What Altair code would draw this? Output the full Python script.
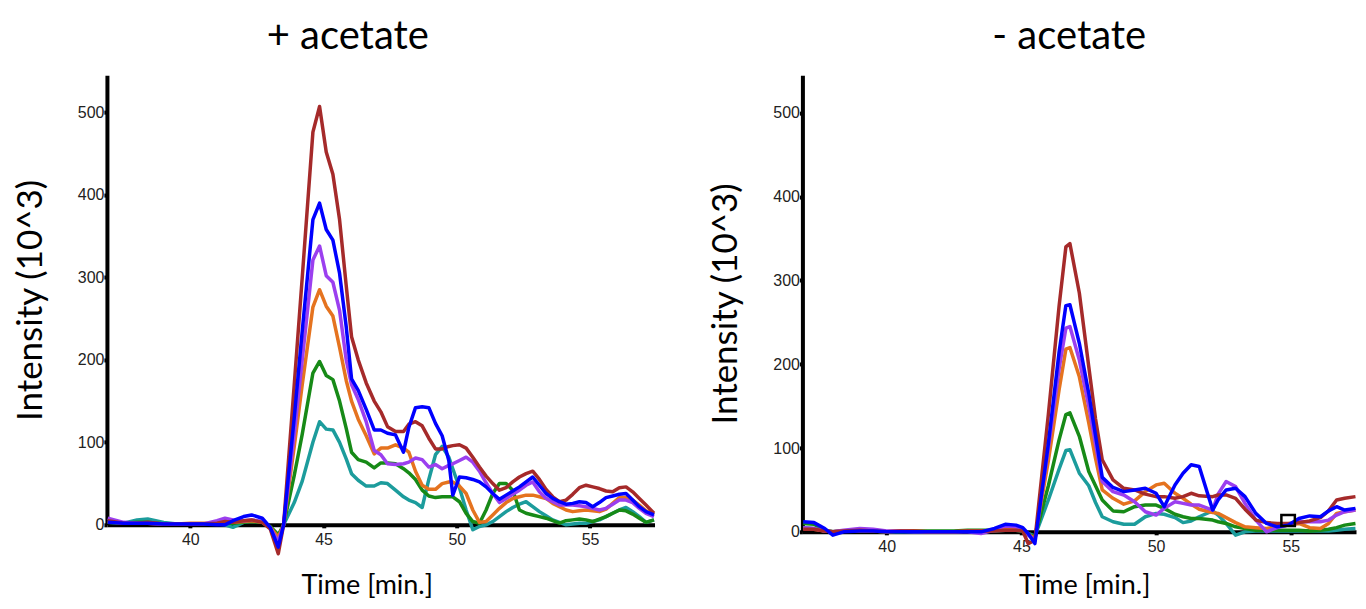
import altair as alt
import pandas as pd

# ---------------- data ----------------
series_names = ["teal", "green", "orange", "purple", "red", "blue"]
series_colors = ["#1C9C9C", "#178A17", "#E5731F", "#9B3FEF", "#A52A2A", "#0000FF"]

t_left = [36.9, 37.5, 38.0, 38.4, 39.0, 39.5, 40.0, 40.5, 41.0, 41.3,
          41.6, 42.0, 42.3, 42.7, 43.0, 43.3, 43.5, 43.9, 44.2, 44.6,
          44.85, 45.1, 45.35, 45.6, 45.85, 46.05, 46.3, 46.6, 46.9, 47.15,
          47.4, 47.7, 48.0, 48.2, 48.45, 48.7, 48.95, 49.2, 49.45, 49.7,
          49.85, 50.1, 50.35, 50.6, 50.85, 51.1, 51.35, 51.6, 51.85, 52.1,
          52.35, 52.6, 52.85, 53.1, 53.35, 53.6, 53.85, 54.1, 54.35, 54.6,
          54.85, 55.1, 55.35, 55.6, 55.85, 56.1, 56.35, 56.6, 56.85, 57.1,
          57.4]

left_red = [5, 2, 2, 3, 1, 1, 1, 1, 2, 4,
            3, 5, 6, 3, -5, -35, 0, 170, 300, 476,
            507, 452, 425, 370, 290, 228, 200, 172, 150, 137,
            119, 113, 113, 122, 125, 120, 105, 92, 92, 95,
            96, 97, 93, 82, 70, 59, 50, 42, 45, 52,
            58, 62, 65, 55, 43, 34, 28, 30, 37, 45,
            48, 46, 44, 41, 40, 45, 46, 40, 32, 24,
            14]
left_blue = [3, 2, 2, 2, 1, 1, 1, 1, 0, 0,
             5, 10, 12, 8, -3, -27, 0, 130, 235, 370,
             390, 358, 345, 305, 240, 177, 163, 140, 115, 115,
             111, 109, 88, 118, 142, 143, 142, 123, 108, 78,
             36, 58, 57, 55, 52, 46, 38, 31, 36, 41,
             46, 52, 58, 48, 38, 32, 28, 25, 26, 28,
             27, 22, 27, 33, 35, 37, 38, 30, 22, 16,
             12]
left_purple = [8, 3, 2, 2, 1, 1, 1, 1, 5, 8,
               6, 5, 6, 4, -4, -20, 0, 110, 200, 321,
               338, 302, 294, 260, 200, 170, 152, 125, 90, 85,
               74, 73, 74, 76, 81, 79, 70, 73, 68, 72,
               74, 78, 82, 76, 65, 51, 38, 27, 32, 37,
               42, 48, 52, 40, 32, 28, 24, 24, 24, 23,
               22, 20, 18, 20, 25, 30, 30, 27, 20, 14,
               10]
left_orange = [4, 2, 2, 2, 1, 1, 2, 2, 2, 4,
               3, 4, 5, 3, -3, -15, 0, 95, 170, 264,
               285, 265, 253, 215, 175, 150, 128, 108, 86, 93,
               93, 97, 93, 88, 65, 48, 43, 43, 50, 52,
               52, 47, 38, 18, 3, 4, 12, 20, 27, 32,
               34, 36, 36, 34, 32, 26, 22, 18, 16, 17,
               18, 17, 16, 19, 26, 33, 33, 30, 24, 17,
               12]
left_green = [3, 2, 3, 3, 1, 1, 1, 1, 1, 2,
              2, 3, 4, 3, -2, -12, 0, 60, 110, 184,
              198, 181, 176, 150, 117, 88, 79, 76, 69, 75,
              75, 74, 68, 63, 55, 42, 35, 33, 34, 34,
              34, 28, 14, 4, 2, 18, 38, 50, 50, 42,
              18, 14, 12, 10, 8, 5, 2, 5, 6, 7,
              6, 4, 7, 10, 14, 18, 17, 13, 8, 3,
              6]
left_teal = [3, 2, 6, 7, 3, 1, 1, 1, 1, 0,
             -3, 3, 5, 3, -3, -15, 0, 27, 53, 100,
             125, 116, 115, 100, 80, 62, 54, 47, 47, 51,
             50, 42, 34, 30, 27, 21, 55, 85, 95, 82,
             68, 45, 18, -6, -2, 0, 4, 10, 16, 21,
             25, 28, 22, 16, 11, 6, 3, 0, 1, 2,
             2, 4, 6, 10, 14, 18, 21, 16, 10, 3,
             6]

t_right = [36.9, 37.3, 37.7, 38.0, 38.4, 39.0, 39.5, 40.0, 40.5, 41.0,
           41.5, 42.0, 42.5, 43.0, 43.5, 44.0, 44.4, 44.8, 45.05, 45.25,
           45.5, 46.0, 46.4, 46.65, 46.8, 47.15, 47.5, 47.75, 48.0, 48.4,
           48.8, 49.2, 49.6, 50.0, 50.3, 50.7, 51.0, 51.3, 51.6, 52.1,
           52.3, 52.6, 52.95, 53.3, 53.7, 54.1, 54.5, 54.9, 55.3, 55.7,
           56.1, 56.4, 56.7, 57.0, 57.4]

right_red = [3, 3, 1, 0, 1, 2, 1, 0, 1, 1,
             0, 0, 0, 1, 1, 1, 2, 2, 1, -14,
             -10, 140, 270, 340, 344, 285, 197, 135, 86, 62,
             52, 50, 45, 42, 42, 40, 42, 46, 43, 42,
             44, 44, 40, 27, 14, 11, 10, 10, 11, 13,
             17, 25, 38, 40, 42]
right_blue = [12, 11, 4, -4, 0, 1, 1, 0, 0, 0,
              0, 0, 0, 0, 0, 4, 9, 8, 5, -2,
              -14, 105, 215, 270, 271, 225, 165, 115, 65, 53,
              48, 50, 52, 46, 30, 56, 70, 80, 78, 26,
              38, 50, 52, 42, 22, 10, 6, 8, 16, 19,
              18, 25, 30, 26, 28]
right_purple = [5, 4, 1, 0, 2, 4, 3, 1, 1, 0,
                0, 0, 0, 0, -2, 2, 7, 6, 3, -4,
                -10, 100, 195, 243, 245, 205, 150, 105, 60, 48,
                44, 36, 24, 20, 28, 36, 34, 32, 32, 26,
                45, 60, 54, 34, 14, 0, 5, 8, 12, 12,
                12, 14, 20, 24, 26]
right_orange = [4, 3, 1, 0, 1, 1, 1, 0, 1, 1,
                0, 0, 0, 1, 1, 2, 3, 3, 2, -3,
                -8, 85, 170, 218, 220, 185, 130, 88, 50, 40,
                33, 37, 48, 56, 58, 46, 40, 33, 27, 23,
                22, 17, 11, 6, 5, 4, 6, 8, 10, 5,
                4, 10, 22, 24, 26]
right_green = [10, 9, 2, 0, 1, 1, 1, 0, 0, 1,
               1, 1, 1, 2, 2, 2, 2, 2, 1, -3,
               -6, 55, 110, 140, 142, 114, 72, 55, 38, 25,
               24, 30, 32, 32, 28, 21, 18, 16, 16, 14,
               12, 10, 6, 4, 2, 2, 2, 2, 2, 1,
               2, 3, 5, 8, 10]
right_teal = [5, 4, 1, 0, 1, 1, 1, 0, 0, 0,
              0, 0, 0, 1, 1, 1, 2, 2, 1, -2,
              -5, 38, 75, 97, 98, 70, 55, 35, 18, 12,
              9, 9, 18, 22, 21, 17, 11, 13, 18, 25,
              20, 10, -4, 0, 1, 1, 1, 1, 1, 1,
              1, 1, 2, 3, 4]

y_ticks = [0, 100, 200, 300, 400, 500]
x_ticks = [40, 45, 50, 55]
x_domain = [36.87, 57.42]
y_domain = [0, 545]

# cursor box seen in the right panel
box_t = [54.65, 55.15]
box_v = [7, 20]

# ---------------- chart ----------------
FONT_LABEL = "Liberation Sans"
FONT_TITLE = "Lato"


def build_panel(t, vals, title, width, height, title_dx, x_title_pad, x_title_x, extra=None):
    layers = []
    for name, color, v in zip(series_names, series_colors, vals):
        df = pd.DataFrame({"t": t, "v": v})
        layers.append(
            alt.Chart(df).mark_line(color=color, strokeWidth=3.5, strokeJoin="round").encode(
                x=alt.X("t:Q",
                        scale=alt.Scale(domain=x_domain, nice=False, zero=False),
                        axis=alt.Axis(values=x_ticks, title="Time [min.]",
                                      titlePadding=x_title_pad, labelPadding=4,
                                      titleX=x_title_x, titleAlign="center")),
                y=alt.Y("v:Q",
                        scale=alt.Scale(domain=y_domain, nice=False),
                        axis=alt.Axis(values=y_ticks, title="Intensity (10^3)",
                                      titlePadding=29, labelPadding=0)),
            )
        )
    if extra is not None:
        layers.append(extra)
    return alt.layer(*layers).properties(
        width=width, height=height,
        title=alt.TitleParams(text=title, fontSize=40, font=FONT_TITLE, fontWeight="normal",
                              color="black", anchor="middle", frame="group",
                              dx=title_dx, offset=18),
    )


box_df = pd.DataFrame({"t0": [box_t[0]], "t1": [box_t[1]], "v0": [box_v[0]], "v1": [box_v[1]]})
box = alt.Chart(box_df).mark_rect(fill="white", fillOpacity=0, stroke="black", strokeWidth=2.5).encode(
    x="t0:Q", x2="t1:Q", y="v0:Q", y2="v1:Q"
)

left = build_panel(t_left, [left_teal, left_green, left_orange, left_purple, left_red, left_blue],
                   "+ acetate", 548, 450, -33, 25, 260)
right = build_panel(t_right, [right_teal, right_green, right_orange, right_purple, right_red, right_blue],
                    "- acetate", 554, 457, -10, 18, 282, extra=box)

chart = alt.hconcat(left, right, spacing=52).properties(
    padding={"left": 5, "top": 9, "right": 0, "bottom": 0}
).configure_view(stroke=None).configure_axis(
    grid=False,
    domainColor="black", domainWidth=4,
    tickColor="black", tickWidth=4, tickSize=3,
    labelFont=FONT_LABEL, labelFontSize=16, labelColor="#222222",
    titleFont=FONT_TITLE, titleFontSize=35, titleFontWeight="normal", titleColor="black",
).configure_axisX(titleFontSize=27)

chart.save("out.html", embed_options={"renderer": "svg", "actions": False})
